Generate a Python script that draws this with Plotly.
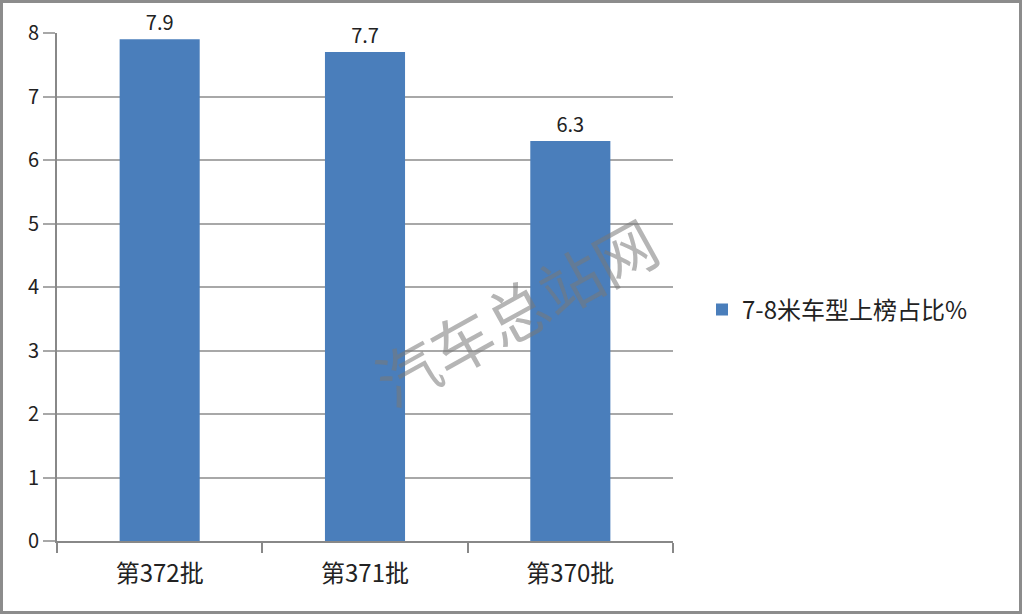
import plotly.graph_objects as go

categories = ["第372批", "第371批", "第370批"]
values = [7.9, 7.7, 6.3]
labels = ["7.9", "7.7", "6.3"]
series_name = "7-8米车型上榜占比%"
y_ticks = [0, 1, 2, 3, 4, 5, 6, 7, 8]

W, H = 1024, 616
L, R, T, B = 57, 351, 33, 75
pw, ph = W - L - R, H - T - B

def px(x):
    return (x - L) / pw

def py(y):
    return (H - B - y) / ph

font = "Noto Sans CJK SC, DejaVu Sans, sans-serif"

fig = go.Figure()
fig.add_trace(go.Bar(
    x=categories, y=values, name=series_name,
    marker=dict(color="#4a7ebb", line=dict(width=0)),
    width=0.39,
    text=labels, textposition="outside",
    textfont=dict(size=20, color="#222222", family=font),
    cliponaxis=False,
))

fig.update_layout(
    width=W, height=H,
    margin=dict(l=L, r=R, t=T, b=B),
    paper_bgcolor="white", plot_bgcolor="white",
    showlegend=True,
    legend=dict(x=px(702), y=py(310), xanchor="left", yanchor="middle",
                font=dict(size=24, color="#222222", family=font),
                itemwidth=30),
    xaxis=dict(
        showgrid=False, showline=True, linecolor="#888888", linewidth=2,
        ticks="outside", ticklen=10, tickcolor="#888888", tickwidth=2,
        tickson="boundaries", ticklabelstandoff=10,
        tickfont=dict(size=24, color="#222222", family=font),
    ),
    yaxis=dict(
        range=[0, 8], tickvals=y_ticks,
        showgrid=True, gridcolor="#a8a8a8", gridwidth=2,
        showline=True, linecolor="#888888", linewidth=2,
        ticks="outside", ticklen=12, tickcolor="#a8a8a8", tickwidth=2,
        tickfont=dict(size=20, color="#222222", family=font),
        zeroline=False,
    ),
    bargap=0.61,
)

# watermark
fig.add_annotation(
    x=px(515), y=py(310), xref="paper", yref="paper",
    xanchor="center", yanchor="middle",
    text="汽车总站网", showarrow=False, textangle=-29,
    font=dict(size=62, color="rgba(120,120,120,0.55)", family=font),
)

# outer frame
fig.add_shape(type="rect", xref="paper", yref="paper",
              x0=px(1.5), x1=px(1020.5), y0=py(612.5), y1=py(1.5),
              line=dict(color="#8c8c8c", width=3), layer="above")

fig.write_html("out.html", config={"displayModeBar": False},
               post_script="document.body.style.margin='0';")
